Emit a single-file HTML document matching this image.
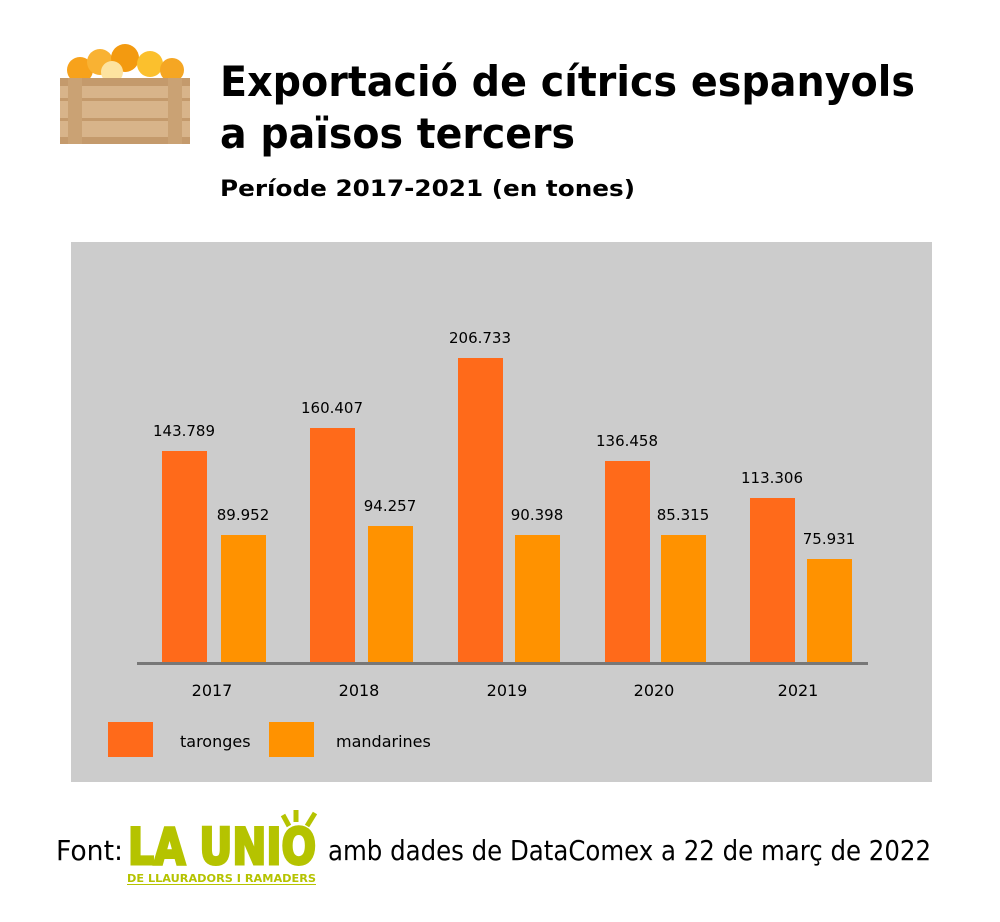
<!DOCTYPE html>
<html><head><meta charset="utf-8"><style>html,body{margin:0;padding:0;background:#fff}svg{display:block}</style></head>
<body>
<svg width="1000" height="922" viewBox="0 0 1000 922" xmlns="http://www.w3.org/2000/svg" font-family="'DejaVu Sans', Verdana, sans-serif">
<g>
<circle cx="80" cy="70" r="13" fill="#f7a21b"/><circle cx="100" cy="62" r="13" fill="#f9b233"/><circle cx="125" cy="58" r="14" fill="#f39a10"/><circle cx="150" cy="64" r="13" fill="#fbc02d"/><circle cx="172" cy="70" r="12" fill="#f5a623"/><circle cx="112" cy="72" r="11" fill="#fde3a0"/>
<rect x="60" y="78" width="130" height="66" fill="#d8b48a"/>
<rect x="60" y="78" width="130" height="8" fill="#c49a6c"/>
<rect x="60" y="98" width="130" height="3" fill="#c49a6c"/>
<rect x="60" y="118" width="130" height="3" fill="#c49a6c"/>
<rect x="60" y="137" width="130" height="7" fill="#c49a6c"/>
<rect x="68" y="78" width="14" height="66" fill="#caa274"/><rect x="168" y="78" width="14" height="66" fill="#caa274"/>
</g>
<text x="220" y="96" font-size="42" font-weight="bold" textLength="695" lengthAdjust="spacingAndGlyphs">Exportació de cítrics espanyols</text>
<text x="220" y="148" font-size="42" font-weight="bold" textLength="355" lengthAdjust="spacingAndGlyphs">a països tercers</text>
<text x="220" y="196" font-size="22" font-weight="bold" textLength="415" lengthAdjust="spacingAndGlyphs">Període 2017-2021 (en tones)</text>
<rect x="71" y="242" width="861" height="540" fill="#cccccc"/>
<g fill="#ff6a1a">
<rect x="162" y="451" width="45" height="212"/><rect x="310" y="428" width="45" height="235"/><rect x="458" y="358" width="45" height="305"/><rect x="605" y="461" width="45" height="202"/><rect x="750" y="498" width="45" height="165"/>
<rect x="108" y="722" width="45" height="35"/>
</g>
<g fill="#ff9200">
<rect x="221" y="535" width="45" height="128"/><rect x="368" y="526" width="45" height="137"/><rect x="515" y="535" width="45" height="128"/><rect x="661" y="535" width="45" height="128"/><rect x="807" y="559" width="45" height="104"/>
<rect x="269" y="722" width="45" height="35"/>
</g>
<rect x="137" y="662" width="731" height="3" fill="#777"/>
<g font-size="15" text-anchor="middle" fill="#000">
<text x="184" y="436">143.789</text><text x="243" y="520">89.952</text>
<text x="332" y="413">160.407</text><text x="390" y="511">94.257</text>
<text x="480" y="343">206.733</text><text x="537" y="520">90.398</text>
<text x="627" y="446">136.458</text><text x="683" y="520">85.315</text>
<text x="772" y="483">113.306</text><text x="829" y="544">75.931</text>
<g font-size="16"><text x="212" y="696">2017</text><text x="359" y="696">2018</text><text x="507" y="696">2019</text><text x="654" y="696">2020</text><text x="798" y="696">2021</text></g>
</g>
<text x="180" y="747" font-size="16">taronges</text>
<text x="336" y="747" font-size="16">mandarines</text>
<text x="56" y="860" font-size="28" textLength="67" lengthAdjust="spacingAndGlyphs">Font:</text>
<text x="128" y="864" font-size="50" font-weight="bold" fill="#b5c300" stroke="#b5c300" stroke-width="3" font-family="'DejaVu Sans', sans-serif" textLength="188" lengthAdjust="spacingAndGlyphs">LA UNIO</text>
<g stroke="#b5c300" stroke-width="5"><line x1="283" y1="815" x2="289" y2="826"/><line x1="296" y1="810" x2="296" y2="822"/><line x1="315" y1="813" x2="307" y2="826"/></g>
<text x="127" y="882" font-size="11" font-weight="bold" fill="#b5c300" textLength="189" lengthAdjust="spacingAndGlyphs">DE LLAURADORS I RAMADERS</text>
<rect x="127" y="884" width="189" height="1" fill="#b5c300"/>
<text x="328" y="860" font-size="28" textLength="603" lengthAdjust="spacingAndGlyphs">amb dades de DataComex a 22 de març de 2022</text>
</svg>
</body></html>
